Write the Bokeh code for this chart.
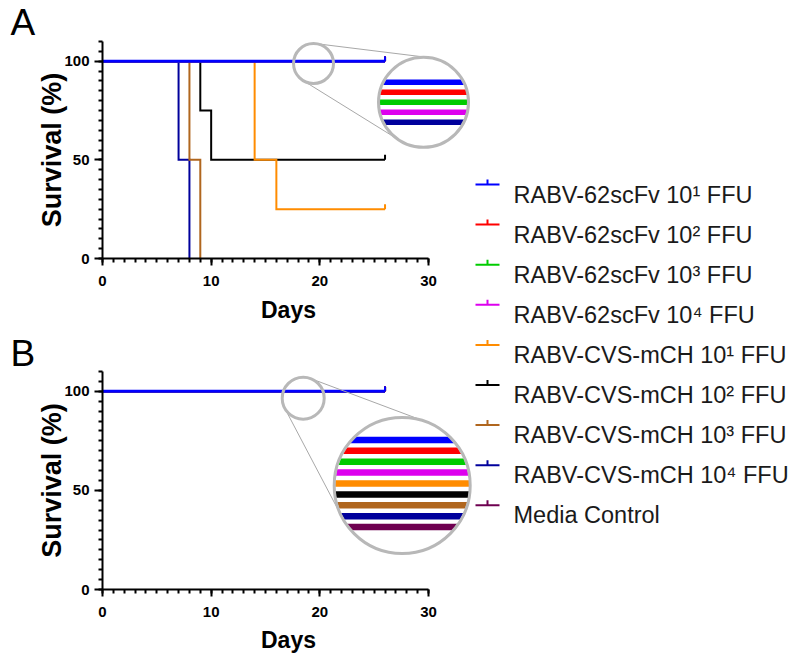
import numpy as np
from bokeh.plotting import figure
from bokeh.layouts import row, column
from bokeh.models import Range1d, SingleIntervalTicker
from bokeh.core.properties import value
from bokeh.embed import file_html
from bokeh.resources import INLINE

# ---------------- data ----------------
SERIES_NAMES = [
    "RABV-62scFv 10¹ FFU", "RABV-62scFv 10² FFU", "RABV-62scFv 10³ FFU", "RABV-62scFv 10⁴ FFU",
    "RABV-CVS-mCH 10¹ FFU", "RABV-CVS-mCH 10² FFU", "RABV-CVS-mCH 10³ FFU", "RABV-CVS-mCH 10⁴ FFU",
    "Media Control",
]
SERIES_COLORS = ["#0000FF", "#FF0000", "#00CC00", "#DD00EE", "#FF8C00",
                 "#000000", "#B0661E", "#00009C", "#6E0050"]

# Panel A: Kaplan-Meier steps (day, survival %)
A_SCFV1_DAYS = [0, 26]; A_SCFV1_SURV = [100, 100]
A_SCFV2_DAYS = [0, 26]; A_SCFV2_SURV = [100, 100]
A_SCFV3_DAYS = [0, 26]; A_SCFV3_SURV = [100, 100]
A_SCFV4_DAYS = [0, 26]; A_SCFV4_SURV = [100, 100]
A_CVS1_DAYS = [0, 14, 16, 26]; A_CVS1_SURV = [100, 50, 25, 25]
A_CVS2_DAYS = [0, 9, 10, 26]; A_CVS2_SURV = [100, 75, 50, 50]
A_CVS3_DAYS = [0, 8, 9]; A_CVS3_SURV = [100, 50, 0]
A_CVS4_DAYS = [0, 7, 8]; A_CVS4_SURV = [100, 50, 0]
A_MEDIA_DAYS = [0, 26]; A_MEDIA_SURV = [100, 100]

# Panel B
B_SCFV1_DAYS = [0, 26]; B_SCFV1_SURV = [100, 100]
B_SCFV2_DAYS = [0, 26]; B_SCFV2_SURV = [100, 100]
B_SCFV3_DAYS = [0, 26]; B_SCFV3_SURV = [100, 100]
B_SCFV4_DAYS = [0, 26]; B_SCFV4_SURV = [100, 100]
B_CVS1_DAYS = [0, 26]; B_CVS1_SURV = [100, 100]
B_CVS2_DAYS = [0, 26]; B_CVS2_SURV = [100, 100]
B_CVS3_DAYS = [0, 26]; B_CVS3_SURV = [100, 100]
B_CVS4_DAYS = [0, 26]; B_CVS4_SURV = [100, 100]
B_MEDIA_DAYS = [0, 26]; B_MEDIA_SURV = [100, 100]

X_TICK_LABELS = [0, 10, 20, 30]
Y_TICK_LABELS = [0, 50, 100]

A_SERIES = [(A_SCFV1_DAYS, A_SCFV1_SURV), (A_SCFV2_DAYS, A_SCFV2_SURV), (A_SCFV3_DAYS, A_SCFV3_SURV),
            (A_SCFV4_DAYS, A_SCFV4_SURV), (A_CVS1_DAYS, A_CVS1_SURV), (A_CVS2_DAYS, A_CVS2_SURV),
            (A_CVS3_DAYS, A_CVS3_SURV), (A_CVS4_DAYS, A_CVS4_SURV), (A_MEDIA_DAYS, A_MEDIA_SURV)]
B_SERIES = [(B_SCFV1_DAYS, B_SCFV1_SURV), (B_SCFV2_DAYS, B_SCFV2_SURV), (B_SCFV3_DAYS, B_SCFV3_SURV),
            (B_SCFV4_DAYS, B_SCFV4_SURV), (B_CVS1_DAYS, B_CVS1_SURV), (B_CVS2_DAYS, B_CVS2_SURV),
            (B_CVS3_DAYS, B_CVS3_SURV), (B_CVS4_DAYS, B_CVS4_SURV), (B_MEDIA_DAYS, B_MEDIA_SURV)]

# ---------------- style / layout ----------------
FONT = "Liberation Sans"
LEFT_W = 474
BORDER_L = 102
FRAME_W = LEFT_W - BORDER_L
PX_PER_DAY = 326 / 30.0
X_END = FRAME_W / PX_PER_DAY
Y_END = 110
GRAY = "#B8B8B8"


def magnifier(p, frame_h, small_c, r_small, big_c, r_big, offsets, band_h, colors):
    sx = PX_PER_DAY
    sy = frame_h / Y_END
    c1 = np.array([small_c[0] * sx, small_c[1] * sy])
    c2 = np.array([big_c[0] * sx, big_c[1] * sy])
    d = c2 - c1
    D = np.hypot(*d)
    v = d / D
    c = (r_small - r_big) / D
    h = np.sqrt(max(0.0, 1 - c * c))
    x0s, y0s, x1s, y1s = [], [], [], []
    for s in (1, -1):
        n = np.array([v[0] * c - s * h * v[1], v[1] * c + s * h * v[0]])
        p1 = c1 + r_small * n
        p2 = c2 + r_big * n
        x0s.append(p1[0] / sx); y0s.append(p1[1] / sy)
        x1s.append(p2[0] / sx); y1s.append(p2[1] / sy)
    p.segment(x0=x0s, y0=y0s, x1=x1s, y1=y1s, line_color="#A8A8A8", line_width=1)
    p.scatter(x=[small_c[0]], y=[small_c[1]], size=2 * r_small, marker="circle",
              fill_color=None, line_color=GRAY, line_width=3)
    p.scatter(x=[big_c[0]], y=[big_c[1]], size=2 * r_big, marker="circle",
              fill_color="white", line_color=None)
    R = r_big - 1.0
    xs, ys = [], []
    for off in offsets:
        top = -(off - band_h / 2.0)
        bot = -(off + band_h / 2.0)
        t = np.linspace(bot, top, 24)
        t = np.clip(t, -R, R)
        w = np.sqrt(np.maximum(R * R - t * t, 0))
        px = np.concatenate([-w, w[::-1]])
        py = np.concatenate([t, t[::-1]])
        xs.append(list(big_c[0] + px / sx))
        ys.append(list(big_c[1] + py / sy))
    p.patches(xs=xs, ys=ys, fill_color=colors, line_color=None)
    p.scatter(x=[big_c[0]], y=[big_c[1]], size=2 * r_big, marker="circle",
              fill_color=None, line_color=GRAY, line_width=3)


def panel(letter, series, height, top, bottom, days_standoff, title_standoff, zoom):
    p = figure(width=LEFT_W, height=height, x_range=Range1d(0, X_END), y_range=Range1d(0, Y_END),
               output_backend="svg", toolbar_location=None, title=letter,
               min_border_left=BORDER_L, min_border_right=0, min_border_top=top,
               min_border_bottom=bottom)
    p.outline_line_color = None
    p.grid.visible = False
    frame_h = height - top - bottom

    t = p.title
    t.text_font = FONT
    t.text_font_size = "37px"
    t.text_font_style = "normal"
    t.text_color = "black"
    t.align = "left"
    t.offset = 10 - BORDER_L
    t.standoff = title_standoff

    xa = p.xaxis[0]
    xa.ticker = SingleIntervalTicker(interval=10, num_minor_ticks=10)
    xa.bounds = (X_TICK_LABELS[0], X_TICK_LABELS[-1])
    xa.axis_label = "Days"
    xa.major_tick_out = 7; xa.major_tick_in = 0
    xa.minor_tick_out = 4; xa.minor_tick_in = 0
    xa.major_label_standoff = 10
    xa.axis_label_standoff = days_standoff
    xa.axis_label_text_font_size = "23px"

    ya = p.yaxis[0]
    ya.ticker = SingleIntervalTicker(interval=50, num_minor_ticks=10)
    ya.bounds = (0, Y_END)
    ya.axis_label = "Survival (%)"
    ya.major_tick_out = 8; ya.major_tick_in = 0
    ya.minor_tick_out = 4; ya.minor_tick_in = 0
    ya.major_label_standoff = 5
    ya.axis_label_standoff = -6
    ya.axis_label_text_font_size = "27px"

    for ax in (xa, ya):
        ax.axis_line_width = 2
        ax.major_tick_line_width = 2
        ax.minor_tick_line_width = 2
        ax.axis_line_color = "black"
        ax.major_label_text_font = FONT
        ax.major_label_text_font_style = "bold"
        ax.major_label_text_font_size = "15px"
        ax.major_label_text_color = "black"
        ax.axis_label_text_font = FONT
        ax.axis_label_text_font_style = "bold"
        ax.axis_label_text_color = "black"

    # draw in reverse order so the first series is on top
    items = list(zip(series, SERIES_COLORS))
    for k, ((days, surv), color) in reversed(list(enumerate(items))):
        lw = 3 if k == 0 else 2
        p.step(x=days, y=surv, mode="after", line_color=color, line_width=lw, line_join="miter")
        if surv[-1] > 0:
            p.ray(x=[days[-1]], y=[surv[-1]], length=5, length_units="screen",
                  angle=np.pi / 2, line_color=color, line_width=2)

    magnifier(p, frame_h, *zoom)
    return p


A_ZOOM = ((19.42, 98.85), 20, (29.54, 79.2), 45,
          [-20, -10, 0, 10, 20], 5.5,
          [SERIES_COLORS[i] for i in (0, 1, 2, 3, 7)])
B_ZOOM = ((18.47, 96.53), 21, (27.58, 52.48), 68,
          [(i - 4) * 10.9 - 2 for i in range(9)], 6.5,
          SERIES_COLORS)

pA = panel("A", A_SERIES, 332, 41, 74, 8, -3, A_ZOOM)
pB = panel("B", B_SERIES, 325, 39, 68, 7, -5, B_ZOOM)

# ---------------- legend ----------------
LEG_W = 797 - LEFT_W
LEG_H = 657
pl = figure(width=LEG_W, height=LEG_H, x_range=Range1d(0, LEG_W), y_range=Range1d(LEG_H, 0),
            output_backend="svg", toolbar_location=None, min_border=0,
            x_axis_type=None, y_axis_type=None)
pl.outline_line_color = None
pl.grid.visible = False
row_y = [184 + i * 40.1 for i in range(len(SERIES_NAMES))]
pl.segment(x0=[1] * 9, x1=[25] * 9, y0=row_y, y1=row_y, line_color=SERIES_COLORS, line_width=2)
pl.segment(x0=[13] * 9, x1=[13] * 9, y0=row_y, y1=[y - 5 for y in row_y],
           line_color=SERIES_COLORS, line_width=2)
pl.text(x=[39] * 9, y=[y + 10 for y in row_y], text=SERIES_NAMES, text_font=value(FONT),
        text_font_size="23.5px", text_baseline="alphabetic", text_color="#1a1a1a")

layout = row(column(pA, pB), pl)
open("out.html", "w").write(file_html(layout, INLINE))
